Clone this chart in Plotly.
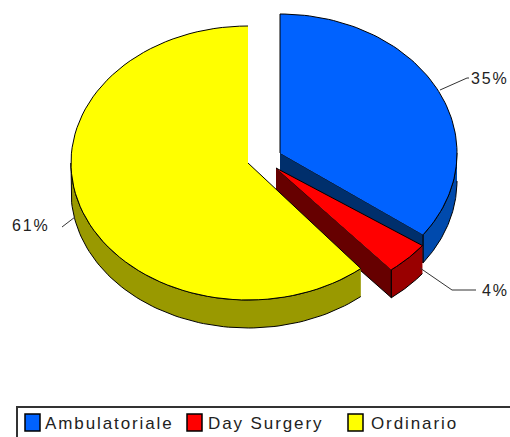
import numpy as np
import plotly.graph_objects as go

categories = ["Ambulatoriale", "Day Surgery", "Ordinario"]
values = [35, 4, 61]
labels = ["35%", "4%", "61%"]

top_colors = ["#0062FF", "#FF0000", "#FFFF00"]
rim_colors = ["#004AAD", "#990000", "#999900"]
cut_colors = ["#002F6C", "#660000", "#999900"]
centers = [(280, 153), (276, 168), (248, 163)]
radii = [(177, 139), (181, 132), (177, 137)]
DEPTH = 28
EDGE = "#000000"

fig = go.Figure()

def poly(xs, ys, color):
    fig.add_trace(go.Scatter(x=xs, y=ys, mode="lines", fill="toself", fillcolor=color,
                             line=dict(color=EDGE, width=1), hoverinfo="skip", showlegend=False))

def arc(i, t0, t1):
    t = np.radians(np.linspace(t0, t1, 80))
    cx, cy = centers[i]
    rx, ry = radii[i]
    return cx + rx * np.sin(t), cy - ry * np.cos(t)

edges = np.concatenate([[0], np.cumsum(values)]) * 3.6

def wedge(i, rim_from, rim_to, cut_at=None):
    cx, cy = centers[i]
    if cut_at is not None:
        x, y = arc(i, cut_at, cut_at)
        poly([cx, x[0], x[0], cx], [cy, y[0], y[0] + DEPTH, cy + DEPTH], cut_colors[i])
    x, y = arc(i, rim_from, rim_to)
    poly(np.r_[x, x[::-1]], np.r_[y, y[::-1] + DEPTH], rim_colors[i])
    x, y = arc(i, edges[i], edges[i + 1])
    poly(np.r_[cx, x], np.r_[cy, y], top_colors[i])

wedge(0, 90, edges[1], cut_at=edges[1])
wedge(1, edges[1], edges[2], cut_at=edges[2])
wedge(2, edges[2], 270)

leaders = [([440, 467, 469], [90, 78, 78]), ([420, 452, 476], [268, 290, 290]), ([75, 62], [217, 227])]
for lx, ly in leaders:
    fig.add_trace(go.Scatter(x=lx, y=ly, mode="lines", line=dict(color="#333333", width=1),
                             hoverinfo="skip", showlegend=False))

FONT = "Liberation Sans, Arial, sans-serif"
anns = []
for text, x, y in zip(labels, [469, 480, 10], [78, 290, 225]):
    anns.append(dict(x=x, y=y, text=text, showarrow=False, xanchor="left", yanchor="middle",
                     font=dict(family=FONT, size=16, color="#222222")))

shapes = [dict(type="rect", x0=17, y0=407, x1=530, y1=460, line=dict(color="#333333", width=2),
               fillcolor="white", layer="below")]
for name, col, sx, tx in zip(categories, top_colors, [25, 187, 348], [43, 206, 369]):
    shapes.append(dict(type="rect", x0=sx, x1=sx + 15, y0=414, y1=431, fillcolor=col,
                       line=dict(color="#000000", width=1.5)))
    anns.append(dict(x=tx, y=423, text=name, showarrow=False, xanchor="left", yanchor="middle",
                     font=dict(family=FONT, size=17, color="#222222")))

fig.update_layout(width=510, height=437, margin=dict(l=0, r=0, t=0, b=0), autosize=False,
                  paper_bgcolor="white", plot_bgcolor="white", showlegend=False,
                  xaxis=dict(range=[0, 510], visible=False, fixedrange=True),
                  yaxis=dict(range=[437, 0], visible=False, fixedrange=True),
                  annotations=anns, shapes=shapes)

post = """
document.body.style.margin='0';
document.querySelectorAll('.annotation-text').forEach(function(e){
  var w0=e.getComputedTextLength();
  e.style.letterSpacing='1.9px';
  var w1=e.getComputedTextLength();
  e.setAttribute('x', parseFloat(e.getAttribute('x')||0)+(w1-w0)/2);
});
"""
fig.write_html("out.html", post_script=post, config={"displayModeBar": False})
